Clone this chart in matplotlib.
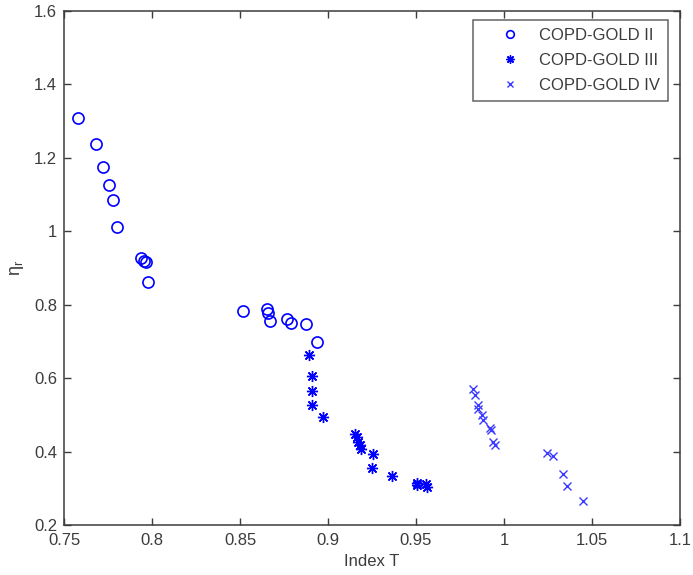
import numpy as np
import matplotlib
matplotlib.use("Agg")
import matplotlib.pyplot as plt

plt.rcParams['font.family'] = ['Liberation Sans', 'DejaVu Sans']
plt.rcParams['mathtext.fontset'] = 'custom'
plt.rcParams['mathtext.rm'] = 'Liberation Sans'
plt.rcParams['mathtext.it'] = 'Liberation Sans'

# COPD-GOLD II (circles)
t_gold2 = [0.7578, 0.7680, 0.7723, 0.7756, 0.7778, 0.7803, 0.7936, 0.7956, 0.7966,
           0.7977, 0.8519, 0.8652, 0.8661, 0.8670, 0.8765, 0.8788, 0.8877, 0.8938]
eta_gold2 = [1.308, 1.238, 1.176, 1.127, 1.084, 1.011, 0.926, 0.919, 0.915,
             0.862, 0.783, 0.787, 0.776, 0.756, 0.760, 0.749, 0.748, 0.699]

# COPD-GOLD III (asterisks)
t_gold3 = [0.8892, 0.8907, 0.8907, 0.8907, 0.8970, 0.9153, 0.9163, 0.9172, 0.9182,
           0.9186, 0.9254, 0.9252, 0.9362, 0.9504, 0.9508, 0.9557, 0.9561]
eta_gold3 = [0.662, 0.605, 0.565, 0.526, 0.495, 0.449, 0.440, 0.427, 0.417,
             0.408, 0.393, 0.356, 0.333, 0.315, 0.309, 0.311, 0.304]

# COPD-GOLD IV (crosses)
t_gold4 = [0.9826, 0.9838, 0.9854, 0.9854, 0.9873, 0.9882, 0.9920, 0.9924, 0.9935,
           0.9949, 1.0246, 1.0280, 1.0337, 1.0360, 1.0451]
eta_gold4 = [0.570, 0.555, 0.528, 0.517, 0.499, 0.487, 0.463, 0.458, 0.426,
             0.417, 0.395, 0.387, 0.340, 0.306, 0.265]

xticks = [0.75, 0.8, 0.85, 0.9, 0.95, 1, 1.05, 1.1]
xticklabels = ['0.75', '0.8', '0.85', '0.9', '0.95', '1', '1.05', '1.1']
yticks = [0.2, 0.4, 0.6, 0.8, 1, 1.2, 1.4, 1.6]
yticklabels = ['0.2', '0.4', '0.6', '0.8', '1', '1.2', '1.4', '1.6']

grey = '#3c3c3c'
blue = '#0000ff'

fig = plt.figure(figsize=(6.93, 5.75), dpi=100)
ax = fig.add_axes([0.0924, 0.087, 0.8888, 0.894])

ax.plot(t_gold2, eta_gold2, linestyle='none', marker='o', ms=8, mfc='none',
        mec=blue, mew=1.2, label='COPD-GOLD II')
ax.plot(t_gold3, eta_gold3, linestyle='none', marker=(8, 2, 0), ms=8,
        mec=blue, mew=1.0, label='COPD-GOLD III')
ax.plot(t_gold4, eta_gold4, linestyle='none', marker='x', ms=6,
        mec='#3a3aff', mew=1.0, label='COPD-GOLD IV')

ax.set_xlim(0.75, 1.1)
ax.set_ylim(0.2, 1.6)
ax.set_xticks(xticks)
ax.set_xticklabels(xticklabels)
ax.set_yticks(yticks)
ax.set_yticklabels(yticklabels)

ax.tick_params(direction='in', length=5, width=1, colors=grey, labelsize=12,
               top=True, right=True)
ax.tick_params(axis='x', pad=6)
ax.tick_params(axis='y', pad=5)
for sp in ax.spines.values():
    sp.set_color(grey)
    sp.set_linewidth(1.1)

ax.set_xlabel('Index T', fontsize=12, color=grey, labelpad=4)
ax.set_ylabel(r'$\eta_r$', fontsize=13, color=grey, labelpad=6)

leg = ax.legend(loc='upper right', bbox_to_anchor=(0.981, 0.9825), borderaxespad=0,
                fontsize=12, frameon=True, fancybox=False, borderpad=0.48,
                handlelength=3.5, handletextpad=0.0, labelspacing=0.6,
                numpoints=1)
leg.get_frame().set_edgecolor(grey)
leg.get_frame().set_linewidth(1.1)
for txt in leg.get_texts():
    txt.set_color(grey)
for h, s in zip(leg.legend_handles, [5.5, 6, 5]):
    h.set_markersize(s)

fig.savefig('out.png', dpi=100)
